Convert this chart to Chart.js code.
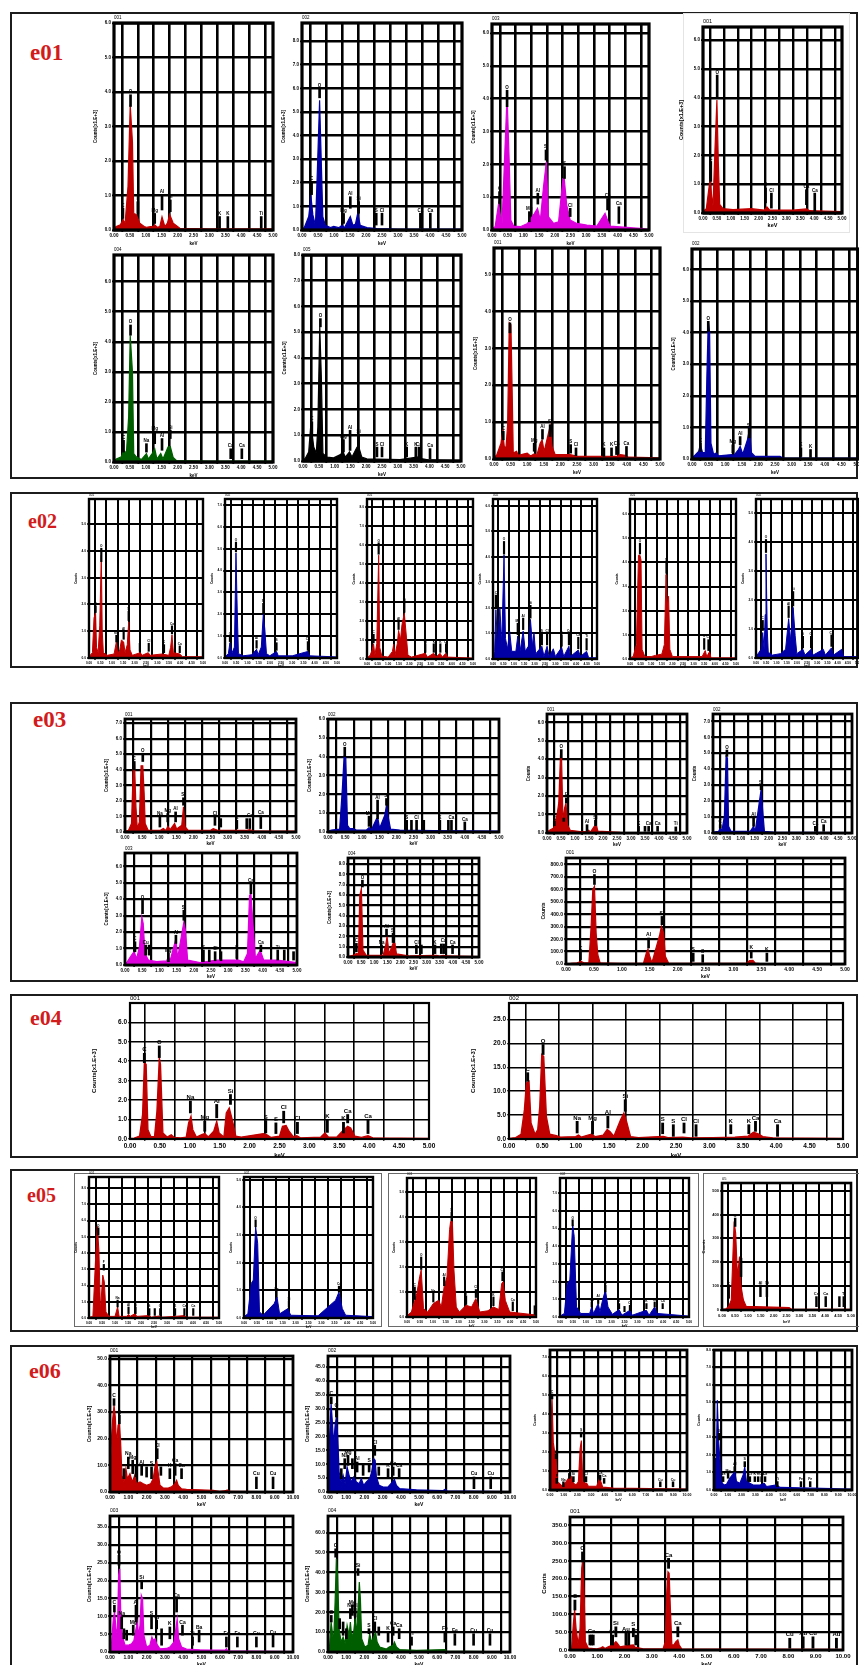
<!DOCTYPE html>
<html><head><meta charset="utf-8">
<script src="https://cdn.jsdelivr.net/npm/chart.js@4/dist/chart.umd.min.js"></script>
<style>
html,body{margin:0;padding:0;background:#fff;}
#page{position:relative;width:859px;height:1665px;overflow:hidden;background:#fff;}
.box{position:absolute;border:2px solid #1c1c1c;box-sizing:border-box;}
.frame{position:absolute;box-sizing:border-box;}
.tag{position:absolute;font-family:"Liberation Serif","DejaVu Serif",serif;font-weight:bold;color:#d21c1c;line-height:1;white-space:nowrap;}
canvas{position:absolute;}
</style></head><body><div id="page"></div>
<script>
// ---------- tick labels ----------
const X5 = ['0.00','0.50','1.00','1.50','2.00','2.50','3.00','3.50','4.00','4.50','5.00'];
const X10 = ['0.00','1.00','2.00','3.00','4.00','5.00','6.00','7.00','8.00','9.00','10.00'];
const Y5 = ['0.0','1.0','2.0','3.0','4.0','5.0'];
const Y6 = ['0.0','1.0','2.0','3.0','4.0','5.0','6.0'];
const Y7 = ['0.0','1.0','2.0','3.0','4.0','5.0','6.0','7.0'];
const Y8 = ['0.0','1.0','2.0','3.0','4.0','5.0','6.0','7.0','8.0'];
const Y9 = ['0.0','1.0','2.0','3.0','4.0','5.0','6.0','7.0','8.0','9.0'];
const Y800 = ['0.0','100.0','200.0','300.0','400.0','500.0','600.0','700.0','800.0'];
const Y25 = ['0.0','5.0','10.0','15.0','20.0','25.0'];
const Y500 = ['0','100','200','300','400','500'];
const Y50 = ['0.0','10.0','20.0','30.0','40.0','50.0'];
const Y45 = ['0.0','5.0','10.0','15.0','20.0','25.0','30.0','35.0','40.0','45.0'];
const Y35 = ['0.0','5.0','10.0','15.0','20.0','25.0','30.0','35.0'];
const Y60 = ['0.0','10.0','20.0','30.0','40.0','50.0','60.0'];
const Y350 = ['0.0','50.0','100.0','150.0','200.0','250.0','300.0','350.0'];

// ---------- e01 spectra (keV, counts) and peak markers [keV, from, to, label] ----------
const spec_e01a = [0,0.05, 0.07,0.1, 0.2,0.15, 0.28,0.29, 0.35,0.2, 0.44,1.26, 0.51,3.63, 0.58,2.56, 0.62,0.48, 0.7,0.45, 0.81,0.2, 0.95,0.1, 1.02,0.08, 1.15,0.1, 1.23,0.1, 1.28,0.15, 1.36,0.08, 1.44,0.1, 1.51,0.38, 1.6,0.1, 1.68,0.2, 1.75,0.45, 1.86,0.2, 2.07,0.05, 3,0.03, 5,0.03];
const mark_e01a = [[0.28,0.34,0.63,'C'],[0.52,3.58,3.92,'O'],[0.75,0.48,0.82,'F'],[1.28,0.19,0.48,'Mg'],[1.51,0.58,1.02,'Al'],[1.77,0.53,0.87,'Si'],[3.32,0.05,0.39,'K'],[3.58,0.05,0.39,'K'],[4.63,0.05,0.39,'Ti']];
const spec_e01b = [0,0.05, 0.07,0.1, 0.21,0.57, 0.28,1.41, 0.34,0.64, 0.42,0.2, 0.47,2.1, 0.55,5.5, 0.59,3.5, 0.65,0.57, 0.73,0.2, 0.89,0.1, 0.99,0.15, 1.15,0.1, 1.25,0.2, 1.33,0.1, 1.51,0.57, 1.59,0.2, 1.67,0.25, 1.74,0.7, 1.82,0.2, 2.03,0.1, 2.34,0.06, 3,0.04, 5,0.04];
const mark_e01b = [[0.3,1.5,2.05,'C'],[0.55,5.6,6.0,'O'],[1.3,0.28,0.7,'Mg'],[1.51,0.92,1.41,'Al'],[1.77,0.71,1.2,'Si'],[2.32,0.21,0.71,'S'],[2.5,0.21,0.71,'Cl'],[3.7,0.07,0.71,'Ca'],[4.01,0.07,0.71,'Ca']];
const spec_e01c = [0,0.05, 0.1,0.1, 0.21,0.81, 0.26,0.5, 0.32,0.2, 0.39,1.93, 0.48,4.11, 0.55,2.03, 0.6,0.3, 0.69,0.12, 0.9,0.1, 1.13,0.2, 1.35,0.5, 1.45,0.66, 1.54,0.3, 1.64,1.32, 1.73,2.08, 1.8,0.4, 1.96,0.2, 2.12,0.25, 2.26,1.57, 2.3,1.57, 2.38,0.76, 2.49,0.3, 2.7,0.2, 3.02,0.15, 3.34,0.12, 3.6,0.51, 3.68,0.3, 3.76,0.12, 4.29,0.08, 4.71,0.05, 5,0.02];
const mark_e01c = [[0.24,0.81,1.17,'C'],[0.48,3.76,4.26,'O'],[1.19,0.25,0.56,'Mg'],[1.46,0.79,1.12,'Al'],[1.72,2.13,2.44,'Si'],[2.31,1.57,1.93,'S'],[2.49,0.41,0.66,'Cl'],[3.68,0.61,0.96,'Ca'],[4.04,0.2,0.71,'Ca']];
const spec_e01d = [0,0.05, 0.12,0.15, 0.22,0.92, 0.26,1.15, 0.31,0.6, 0.36,0.25, 0.43,2.19, 0.5,3.92, 0.55,1.79, 0.6,0.3, 0.72,0.15, 1.08,0.12, 1.74,0.15, 2.2,0.1, 2.3,0.21, 2.4,0.1, 3.24,0.1, 3.72,0.14, 3.84,0.08, 5,0.05];
const mark_e01d = [[0.28,1.1,1.79,'C'],[0.51,4.04,4.79,'O'],[2.25,0.35,0.87,'S'],[2.46,0.17,0.69,'Cl'],[3.72,0.29,0.81,'Ca'],[4.02,0.06,0.69,'Ca']];
const spec_e01e = [0,0.05, 0.07,0.1, 0.23,0.17, 0.3,0.39, 0.39,0.3, 0.46,1.5, 0.51,4.22, 0.58,3.0, 0.62,0.28, 0.7,0.17, 0.86,0.08, 1.02,0.28, 1.08,0.1, 1.2,0.28, 1.28,0.44, 1.35,0.1, 1.47,0.28, 1.54,0.1, 1.7,0.5, 1.77,0.52, 1.86,0.15, 1.96,0.05, 3,0.03, 5,0.03];
const mark_e01e = [[0.3,0.33,0.72,'C'],[0.52,4.22,4.56,'O'],[1.02,0.33,0.61,'Na'],[1.28,0.61,1.0,'Mg'],[1.51,0.39,0.78,'Al'],[1.77,0.78,1.06,'Si'],[3.67,0.11,0.44,'Ca'],[4.02,0.11,0.44,'Ca']];
const spec_e01f = [0,0.05, 0.07,0.1, 0.18,0.35, 0.25,1.45, 0.34,0.54, 0.42,0.3, 0.47,1.32, 0.53,5.21, 0.58,3.27, 0.63,0.29, 0.76,0.15, 0.97,0.12, 1.2,0.26, 1.25,0.41, 1.34,0.15, 1.47,0.35, 1.55,0.15, 1.71,0.54, 1.76,0.57, 1.86,0.15, 2.02,0.08, 3.07,0.05, 3.65,0.16, 3.7,0.1, 4,0.04, 5,0.03];
const mark_e01f = [[0.28,1.0,1.52,'C'],[0.55,5.21,5.53,'O'],[1.28,0.35,0.83,'Mg'],[1.49,0.41,1.19,'Al'],[1.76,0.48,1.04,'Si'],[2.34,0.16,0.54,'S'],[2.5,0.16,0.54,'Cl'],[3.28,0.16,0.54,'K'],[3.57,0.03,0.54,'K'],[3.67,0.03,0.54,'Ca'],[4.02,0.09,0.48,'Ca']];
const spec_e01g = [0,0.05, 0.08,0.1, 0.21,0.43, 0.26,0.75, 0.31,0.34, 0.36,0.3, 0.41,0.93, 0.46,3.69, 0.51,3.64, 0.55,1.7, 0.58,0.16, 0.68,0.21, 0.73,0.1, 1.0,0.16, 1.1,0.08, 1.21,0.14, 1.29,0.1, 1.39,0.43, 1.45,0.52, 1.51,0.2, 1.64,0.7, 1.69,0.89, 1.75,0.34, 1.84,0.12, 2.19,0.12, 2.29,0.12, 2.49,0.08, 3.69,0.07, 3.8,0.12, 3.95,0.1, 4.05,0.05, 5,0.03];
const mark_e01g = [[0.28,0.52,0.75,'C'],[0.48,3.42,3.69,'O'],[1.21,0.21,0.43,'Mg'],[1.46,0.54,0.8,'Al'],[1.69,0.61,0.93,'Si'],[2.31,0.16,0.39,'S'],[2.47,0.09,0.3,'Cl'],[3.31,0.07,0.3,'K'],[3.54,0.09,0.3,'K'],[3.69,0.12,0.34,'Ca'],[3.99,0.07,0.34,'Ca']];
const spec_e01h = [0,0.05, 0.07,0.1, 0.2,0.24, 0.25,0.45, 0.32,0.2, 0.4,0.2, 0.45,2.72, 0.49,4.36, 0.53,4.04, 0.57,0.5, 0.65,0.15, 0.73,0.19, 0.8,0.1, 1.2,0.14, 1.25,0.1, 1.4,0.3, 1.45,0.4, 1.53,0.15, 1.67,0.61, 1.73,0.93, 1.79,0.2, 1.9,0.08, 2.65,0.08, 2.75,0.03, 5,0.03];
const mark_e01h = [[0.25,0.24,0.5,'C'],[0.49,4.04,4.36,'O'],[1.23,0.19,0.45,'Mg'],[1.45,0.45,0.71,'Al'],[1.72,0.67,0.98,'Si'],[3.28,0.08,0.35,'K'],[3.57,0.05,0.3,'K']];

// ---------- e02 ----------
const spec_e02a = [0,0.05, 0.15,0.2, 0.22,1.5, 0.29,1.68, 0.33,0.4, 0.4,0.2, 0.47,1.2, 0.54,3.84, 0.58,1.0, 0.63,0.2, 0.8,0.1, 1.1,0.15, 1.2,0.6, 1.26,0.15, 1.35,0.3, 1.42,0.67, 1.52,0.6, 1.58,0.2, 1.68,0.5, 1.74,1.35, 1.8,0.3, 1.9,0.1, 2.25,0.2, 2.33,0.1, 2.6,0.2, 2.68,0.1, 3.2,0.15, 3.5,0.1, 3.58,0.4, 3.64,0.86, 3.7,0.2, 3.98,0.15, 4.1,0.05, 5,0.05];
const mark_e02a = [[0.29,1.7,1.95,'C'],[0.54,3.6,4.1,'O'],[1.2,0.6,0.85,'Mg'],[1.52,0.7,1.0,'Al'],[1.74,1.4,1.75,'Si'],[2.23,0.25,0.55,'S'],[2.62,0.25,0.55,'Cl'],[3.29,0.2,0.5,'K'],[3.64,0.9,1.2,'Ca'],[3.98,0.2,0.45,'Ca']];
const spec_e02b = [0,0.05, 0.15,0.2, 0.22,0.7, 0.3,0.2, 0.42,0.5, 0.49,4.8, 0.55,2.0, 0.6,0.2, 0.8,0.1, 1.2,0.15, 1.41,0.4, 1.48,0.15, 1.62,0.5, 1.71,2.0, 1.78,1.3, 1.85,0.2, 2.0,0.1, 2.3,0.3, 2.38,0.1, 3.0,0.1, 3.7,0.3, 3.78,0.1, 5,0.05];
const mark_e02b = [[0.22,0.75,1.0,'C'],[0.49,4.85,5.3,'O'],[1.41,0.45,0.8,'Al'],[1.71,2.05,2.5,'Si'],[2.3,0.35,0.7,'S'],[3.7,0.35,0.75,'Ca']];
const spec_e02c = [0,0.05, 0.15,0.2, 0.25,0.5, 0.31,0.8, 0.37,0.2, 0.46,0.8, 0.55,5.45, 0.6,0.6, 0.7,0.15, 1.0,0.1, 1.2,0.4, 1.26,0.78, 1.32,0.2, 1.43,0.8, 1.49,1.5, 1.58,1.0, 1.65,1.8, 1.76,2.4, 1.86,1.15, 1.93,0.2, 2.1,0.1, 2.75,0.3, 2.85,0.1, 3.15,0.3, 3.25,0.1, 3.45,0.3, 3.55,0.1, 3.72,0.3, 3.8,0.1, 5,0.05];
const mark_e02c = [[0.31,0.85,1.3,'C'],[0.55,5.5,6.1,'O'],[1.49,1.55,2.0,'Al'],[1.76,2.45,3.0,'Si'],[2.75,0.35,0.8,'Cl'],[3.15,0.35,0.8,'K'],[3.46,0.35,0.8,'K'],[3.73,0.35,0.8,'Ca']];
const spec_e02d = [0,0.05, 0.08,0.3, 0.14,1.93, 0.22,0.4, 0.33,2.0, 0.42,0.6, 0.53,4.07, 0.6,0.8, 0.7,0.4, 0.8,1.09, 0.9,0.3, 1.1,0.3, 1.19,0.9, 1.3,0.3, 1.45,1.09, 1.55,0.3, 1.7,0.5, 1.8,1.55, 1.9,0.5, 1.97,1.04, 2.05,0.2, 2.35,0.5, 2.45,0.1, 2.6,0.5, 2.7,0.1, 2.9,0.4, 3.0,0.1, 3.3,0.45, 3.4,0.1, 3.65,0.5, 3.72,0.1, 4.1,0.35, 4.2,0.1, 4.5,0.3, 4.6,0.05, 5,0.05];
const mark_e02d = [[0.14,2.0,2.5,'C'],[0.53,4.1,4.6,'O'],[1.19,0.95,1.4,'Mg'],[1.45,1.15,1.6,'Al'],[1.8,1.6,2.1,'Si'],[2.35,0.55,1.0,'S'],[2.6,0.55,1.0,'Cl'],[3.3,0.5,0.95,'K'],[3.65,0.55,1.0,'Ca'],[4.1,0.4,0.85,'Ca'],[4.5,0.35,0.8,'Ti']];
const spec_e02e = [0,0.05, 0.15,0.1, 0.3,0.6, 0.4,4.3, 0.47,4.3, 0.52,4.1, 0.57,0.4, 0.7,0.1, 1.0,0.1, 1.2,0.15, 1.5,0.2, 1.62,0.6, 1.7,3.5, 1.76,2.2, 1.82,2.6, 1.88,0.4, 2.0,0.1, 2.5,0.1, 3.4,0.1, 3.55,0.35, 3.62,0.1, 3.75,0.3, 3.82,0.05, 5,0.05];
const mark_e02e = [[0.47,4.35,4.8,'O'],[1.72,3.55,4.0,'Si'],[3.5,0.4,0.85,'K'],[3.7,0.35,0.8,'Ca']];
const spec_e02f = [0,0.05, 0.15,0.2, 0.25,0.3, 0.33,0.88, 0.4,0.3, 0.45,1.5, 0.49,3.6, 0.55,1.0, 0.6,0.2, 0.8,0.1, 1.2,0.15, 1.45,0.3, 1.6,1.36, 1.7,0.6, 1.82,1.75, 1.92,0.77, 2.0,0.15, 2.3,0.3, 2.4,0.1, 2.7,0.3, 2.8,0.1, 3.3,0.3, 3.4,0.1, 3.7,0.35, 3.8,0.1, 4.2,0.3, 4.3,0.05, 5,0.05];
const mark_e02f = [[0.33,0.95,1.3,'C'],[0.49,3.65,4.1,'O'],[1.6,1.4,1.8,'Al'],[1.82,1.8,2.3,'Si'],[2.3,0.35,0.75,'S'],[2.7,0.35,0.75,'Cl'],[3.7,0.4,0.8,'Ca']];

// ---------- e03 ----------
const spec_e03a = [0,0.05, 0.1,0.1, 0.19,0.54, 0.24,3.99, 0.28,4.31, 0.32,1.62, 0.36,0.2, 0.42,0.65, 0.47,4.25, 0.52,4.25, 0.56,2.48, 0.59,0.54, 0.68,0.1, 1.02,0.1, 1.12,0.22, 1.2,0.1, 1.25,0.37, 1.32,0.15, 1.45,0.54, 1.51,0.2, 1.66,0.43, 1.71,1.62, 1.76,0.32, 1.85,0.1, 2.49,0.1, 2.58,0.22, 2.73,0.1, 3.56,0.1, 3.65,0.15, 3.75,0.08, 5,0.05];
const mark_e03a = [[0.27,3.99,4.53,'C'],[0.52,4.53,5.06,'O'],[1.02,0.32,0.97,'Na'],[1.25,0.65,1.19,'Mg'],[1.48,0.65,1.29,'Al'],[1.71,1.72,2.2,'Si'],[2.63,0.43,0.97,'Cl'],[2.8,0.32,0.86,''],[3.27,0.22,0.75,'K'],[3.56,0.22,0.86,''],[3.65,0.22,0.86,'Ca'],[3.97,0.22,1.08,'Ca']];
const spec_e03b = [0,0.05, 0.1,0.1, 0.34,0.15, 0.42,2.31, 0.47,4.0, 0.52,3.91, 0.57,0.36, 0.63,0.2, 0.73,0.18, 0.83,0.1, 1.12,0.1, 1.2,0.23, 1.27,0.12, 1.42,0.71, 1.46,0.71, 1.51,0.2, 1.66,0.89, 1.71,1.42, 1.76,0.8, 1.83,0.15, 2.1,0.1, 3.08,0.08, 5,0.05];
const mark_e03b = [[0.49,4.0,4.5,'O'],[1.2,0.3,0.84,'Mg'],[1.45,0.71,1.69,'Al'],[1.71,1.42,1.78,'Si'],[2.3,0.09,0.62,'S'],[2.44,0.09,0.62,''],[2.59,0.09,0.62,'Cl'],[2.8,0.09,0.62,''],[3.27,0.09,0.62,'K'],[3.52,0.09,0.62,''],[3.61,0.09,0.62,'Ca'],[4.0,0.09,0.53,'Ca']];
const spec_e03c = [0,0.05, 0.05,0.15, 0.19,0.6, 0.26,0.8, 0.34,0.4, 0.42,1.1, 0.49,2.92, 0.53,2.52, 0.58,0.7, 0.68,0.3, 0.92,0.2, 1.21,0.25, 1.26,0.5, 1.31,0.25, 1.43,1.2, 1.48,1.6, 1.53,0.4, 1.65,1.9, 1.71,2.6, 1.76,2.1, 1.82,0.3, 2.18,0.15, 2.67,0.3, 3.16,0.3, 3.3,0.3, 3.45,0.2, 3.56,0.7, 3.62,4.23, 3.66,4.33, 3.72,2.5, 3.79,0.4, 3.93,0.9, 4.03,0.3, 4.42,0.3, 5,0.15];
const mark_e03c = [[0.29,0.81,1.41,'C'],[0.51,3.12,3.93,'O'],[0.6,0.6,1.21,'Cu'],[0.7,0.6,1.21,''],[1.26,0.2,0.71,'Mg'],[1.48,1.31,1.81,'Al'],[1.71,2.72,3.33,'Si'],[2.28,0.2,0.91,'S'],[2.45,0.2,0.91,''],[2.62,0.26,0.81,'Cl'],[2.79,0.26,0.81,''],[3.25,0.4,0.91,'K'],[3.66,4.33,4.94,'Ca'],[3.95,0.81,1.21,'Ca'],[4.44,0.3,0.91,'Ti'],[4.63,0.3,0.91,''],[4.9,0.3,0.81,'']];
const spec_e03d = [0,0.05, 0.19,0.15, 0.32,0.33, 0.4,0.3, 0.45,5.96, 0.51,6.62, 0.57,0.66, 0.7,0.15, 1.34,0.15, 1.44,1.16, 1.49,1.99, 1.57,0.3, 1.72,1.32, 1.79,1.32, 1.85,0.3, 2.36,0.1, 3.38,0.17, 3.5,0.1, 3.64,0.17, 3.75,0.1, 5,0.05];
const mark_e03d = [[0.32,0.5,1.32,'C'],[0.55,6.79,7.45,'O'],[1.28,0.33,1.16,'Na'],[1.47,2.0,2.7,'Al'],[1.72,1.4,2.32,'Si'],[2.61,0.33,1.16,'Cl'],[2.8,0.33,1.16,''],[3.32,0.33,1.16,'K'],[3.56,0.33,1.26,''],[3.65,0.33,1.26,'Ca'],[3.99,0.33,1.16,'Ca']];
const spec_e03e = [0,3, 0.08,5, 0.2,10, 0.27,21, 0.32,10, 0.41,10, 0.45,303, 0.48,598, 0.51,625, 0.54,249, 0.57,75, 0.61,10, 0.97,5, 1.39,8, 1.44,88, 1.47,121, 1.5,62, 1.54,10, 1.68,236, 1.71,303, 1.75,249, 1.78,62, 1.84,5, 2.52,5, 3.24,8, 3.29,27, 3.35,29, 3.39,8, 3.48,3, 5,3];
const mark_e03e = [[0.26,35,102,'C'],[0.51,640,720,'O'],[1.48,129,209,'Al'],[1.72,316,383,'Si'],[2.28,21,88,'S'],[2.45,13,75,'S'],[3.32,48,107,'K'],[3.6,21,88,'K']];
const spec_e03f = [0,0.05, 0.12,0.18, 0.24,0.27, 0.36,0.99, 0.42,1.63, 0.48,4.16, 0.52,4.07, 0.57,0.63, 0.63,1.36, 0.68,1.63, 0.73,0.45, 0.83,0.15, 1.19,0.08, 1.43,0.09, 1.49,0.15, 1.55,0.05, 1.69,0.36, 1.76,0.4, 1.82,0.1, 2.62,0.03, 5,0.02];
const mark_e03f = [[0.26,0.4,0.63,'C'],[0.51,4.07,4.52,'O'],[0.6,0.63,0.81,''],[0.69,1.63,1.9,'F'],[1.43,0.09,0.45,'Al'],[1.73,0.4,0.7,'Si'],[3.27,0.09,0.36,'K'],[3.5,0.09,0.36,''],[3.63,0.09,0.36,'Ca'],[3.95,0.09,0.36,'Ca'],[4.6,0.09,0.33,'Ti']];
const spec_e03g = [0,0.05, 0.2,0.1, 0.26,0.31, 0.32,0.15, 0.41,1.04, 0.47,4.8, 0.52,4.7, 0.56,0.42, 0.65,0.1, 1.34,0.1, 1.46,0.42, 1.52,0.1, 1.67,1.98, 1.73,2.71, 1.79,1.36, 1.85,0.1, 2.18,0.05, 5,0.03];
const mark_e03g = [[0.26,0.31,0.52,'C'],[0.5,4.8,5.2,'O'],[1.46,0.42,0.94,'Al'],[1.73,2.71,3.0,'Si'],[3.68,0.1,0.42,'Ca'],[3.98,0.1,0.52,'Ca']];

// ---------- e04 ----------
const spec_e04a = [0,0.03, 0.07,0.05, 0.16,0.15, 0.21,1.26, 0.24,3.93, 0.27,3.84, 0.3,0.48, 0.35,0.12, 0.41,0.12, 0.45,1.43, 0.49,4.19, 0.51,3.84, 0.55,0.31, 0.62,0.1, 0.69,0.22, 0.74,0.08, 0.85,0.06, 0.94,0.1, 0.98,0.83, 1.02,1.17, 1.05,0.48, 1.11,0.1, 1.2,0.22, 1.25,0.28, 1.31,0.1, 1.4,0.4, 1.45,0.91, 1.49,0.31, 1.57,0.1, 1.61,1.34, 1.66,1.6, 1.71,1.0, 1.77,0.15, 1.86,0.1, 2.23,0.28, 2.29,0.22, 2.36,0.08, 2.5,0.15, 2.55,0.65, 2.61,0.69, 2.66,0.4, 2.73,0.12, 2.79,0.17, 2.85,0.06, 3.19,0.1, 3.26,0.31, 3.32,0.1, 3.46,0.1, 3.55,0.4, 3.64,0.65, 3.69,0.57, 3.76,0.15, 3.87,0.08, 3.98,0.17, 4.06,0.06, 5,0.03];
const mark_e04a = [[0.24,3.93,4.41,'C'],[0.49,4.19,4.79,'O'],[1.01,1.34,1.95,'Na'],[1.25,0.4,0.91,'Mg'],[1.45,1.09,1.78,'Al'],[1.68,1.78,2.29,'Si'],[2.27,0.31,0.95,'S'],[2.44,0.28,0.83,'S'],[2.57,0.83,1.43,'Cl'],[2.8,0.28,0.86,'Cl'],[3.3,0.34,1.0,'K'],[3.57,0.31,0.86,'K'],[3.64,0.83,1.26,'Ca'],[3.98,0.28,1.0,'Ca']];
const spec_e04b = [0,0.15, 0.1,0.3, 0.18,1.0, 0.23,6.1, 0.26,11.7, 0.3,12.1, 0.33,3.35, 0.39,1.0, 0.43,2.0, 0.46,6.8, 0.49,17.7, 0.52,17.3, 0.56,4.7, 0.61,1.0, 0.71,0.7, 0.77,0.4, 1.0,0.5, 1.04,0.84, 1.08,0.4, 1.23,1.0, 1.29,0.5, 1.41,0.8, 1.47,2.0, 1.51,1.6, 1.57,0.6, 1.67,4.05, 1.72,5.45, 1.76,3.7, 1.82,0.5, 1.94,0.3, 2.31,0.56, 2.38,0.3, 2.6,0.4, 2.72,0.25, 3.05,0.3, 3.38,0.4, 3.58,0.6, 3.66,1.4, 3.73,1.1, 3.8,0.5, 3.95,0.25, 5,0.15];
const mark_e04b = [[0.28,12.1,13.9,'C'],[0.51,17.7,19.8,'O'],[1.02,1.26,3.7,'Na'],[1.25,1.1,3.7,'Mg'],[1.48,2.3,4.75,'Al'],[1.74,5.8,8.24,'Si'],[2.3,1.1,3.35,'S'],[2.46,0.56,3.0,'S'],[2.62,1.26,3.35,'Cl'],[2.8,0.56,3.0,'Cl'],[3.32,1.1,3.0,'K'],[3.59,1.1,3.0,'K'],[3.69,1.6,3.7,'Ca'],[4.02,0.56,3.0,'Ca']];

// ---------- e05 ----------
const spec_e05a = [0,0.05, 0.15,0.1, 0.25,3.57, 0.32,5.63, 0.38,4.19, 0.44,0.47, 0.53,2.64, 0.59,2.23, 0.65,0.37, 0.78,0.1, 1.0,0.1, 1.1,0.68, 1.16,0.1, 1.45,0.1, 1.52,0.23, 1.58,0.1, 1.77,0.27, 1.84,0.1, 2.3,0.15, 2.4,0.05, 2.68,0.12, 2.75,0.05, 3.31,0.1, 3.67,0.15, 3.75,0.05, 5,0.05];
const mark_e05a = [[0.36,5.1,5.55,'O'],[0.57,2.95,3.3,'F'],[1.1,0.68,1.1,'Na'],[1.52,0.27,0.68,'Al'],[1.79,0.27,0.68,'Si'],[2.32,0.16,0.58,'S'],[2.53,0.16,0.58,''],[2.74,0.16,0.58,'Cl'],[3.31,0.16,0.58,'K'],[3.67,0.16,0.58,'Ca'],[4.01,0.16,0.58,'Ca']];
const spec_e05b = [0,0.05, 0.15,0.15, 0.28,1.25, 0.36,1.37, 0.45,3.3, 0.53,2.7, 0.6,0.22, 0.74,0.1, 1.17,0.52, 1.28,0.76, 1.38,0.15, 1.7,0.34, 1.81,0.1, 2.87,0.08, 3.55,0.64, 3.68,0.94, 3.81,0.34, 3.94,0.1, 5,0.05];
const mark_e05b = [[0.45,3.3,3.55,'O'],[1.26,0.76,0.98,'Na'],[1.74,0.4,0.62,'Si'],[3.68,0.94,1.15,'Ca']];
const spec_e05c = [0,0.05, 0.17,0.2, 0.3,0.67, 0.38,0.94, 0.49,1.61, 0.55,1.88, 0.64,0.34, 0.8,0.2, 1.02,0.54, 1.23,0.67, 1.33,0.4, 1.44,1.21, 1.55,1.6, 1.65,3.49, 1.69,3.82, 1.76,3.82, 1.82,1.88, 1.91,0.4, 2.03,0.2, 2.29,0.47, 2.5,0.4, 2.67,0.74, 2.82,0.2, 3.14,0.25, 3.35,0.4, 3.56,0.3, 3.67,1.34, 3.73,1.41, 3.81,0.67, 3.98,0.2, 4.41,0.15, 5,0.08];
const mark_e05c = [[0.3,0.7,1.2,'C'],[0.55,1.9,2.4,'O'],[1.02,0.6,0.95,'Na'],[1.44,1.25,1.6,'Al'],[1.73,3.85,4.2,'Si'],[2.29,0.5,0.85,'S'],[2.67,0.78,1.1,'Cl'],[3.35,0.45,0.8,'K'],[3.7,1.45,1.8,'Ca'],[4.1,0.25,0.6,'Ca'],[4.95,0.1,0.45,'']];
const spec_e05d = [0,0.05, 0.17,0.2, 0.28,1.9, 0.38,2.09, 0.49,5.23, 0.55,4.56, 0.64,0.57, 0.8,0.2, 1.15,0.2, 1.23,0.57, 1.3,0.2, 1.48,0.76, 1.55,0.3, 1.65,0.95, 1.76,1.52, 1.86,0.57, 2.03,0.15, 2.29,0.42, 2.4,0.1, 2.71,0.38, 2.8,0.1, 3.35,0.38, 3.45,0.1, 3.67,0.57, 3.77,0.2, 5,0.05];
const mark_e05d = [[0.49,5.15,5.5,'O'],[1.23,0.57,0.85,'Na'],[1.48,0.76,1.05,'Al'],[1.76,1.42,1.8,'Si'],[2.29,0.47,0.76,'S'],[2.5,0.3,0.6,''],[2.71,0.38,0.66,'Cl'],[3.35,0.47,0.76,'K'],[3.67,0.57,0.85,'Ca'],[3.98,0.47,0.76,'Ca']];
const spec_e05e = [0,3, 0.15,5, 0.26,15, 0.36,42, 0.47,371, 0.53,322, 0.6,140, 0.68,224, 0.74,98, 0.83,42, 0.94,15, 2.6,10, 2.7,3, 5,3];
const mark_e05e = [[0.26,49,98,'C'],[0.51,350,385,'O'],[0.74,140,217,'F'],[1.49,56,105,'Al'],[1.74,56,105,'Si'],[3.66,14,56,'Ca'],[4.02,14,56,'Ca'],[4.55,14,56,''],[4.72,14,56,'Ti']];

// ---------- e06 ----------
const spec_e06a = [0,1, 0.09,21.3, 0.15,27.5, 0.22,32.5, 0.29,28.1, 0.36,17.5, 0.44,25, 0.51,25.6, 0.58,18.75, 0.65,6.25, 0.76,3.75, 0.87,8.75, 0.95,5, 1.09,6.9, 1.22,3.75, 1.35,6.25, 1.45,3.1, 1.64,3.75, 1.82,3.1, 2.0,2.5, 2.22,3.1, 2.36,5, 2.47,10, 2.55,11.25, 2.64,6.9, 2.73,2.5, 2.91,1.5, 3.18,1.5, 3.36,1.9, 3.55,3.1, 3.64,4.4, 3.73,2.5, 3.91,1.2, 4.18,1.0, 4.91,0.8, 5.64,0.6, 6.0,0.2, 6.33,0.5, 6.4,0.8, 6.55,0.2, 10,0.1];
const mark_e06a = [[0.22,32.5,35,'C'],[0.51,25.6,28.75,'O'],[0.76,5,8.75,''],[1.0,8.75,13.1,'Na'],[1.24,6.9,11.9,'Mg'],[1.42,5.6,10,''],[1.73,6.25,10,'Al'],[2.0,5.6,9.4,''],[2.27,5,9.4,'S'],[2.58,12.5,16.25,'Cl'],[2.78,6.25,9.4,''],[3.27,5,8.75,'K'],[3.56,6.25,10.6,'Ca'],[3.91,5,8.75,'Ca'],[8.0,1.25,5.6,'Cu'],[8.91,1.25,5.6,'Cu']];
const spec_e06b = [0,1, 0.09,20.4, 0.17,31.8, 0.24,25.2, 0.31,16.8, 0.39,24, 0.46,27, 0.53,20.4, 0.61,7.2, 0.72,3.6, 0.83,6, 0.94,3, 1.05,9, 1.16,6, 1.28,3.6, 1.41,5.4, 1.56,3.6, 1.71,3, 1.83,4.8, 1.96,2.4, 2.11,3.6, 2.29,4.8, 2.4,7.2, 2.51,12, 2.59,11.4, 2.66,5.4, 2.81,2.4, 3.03,1.8, 3.3,1.8, 3.54,3.6, 3.65,4.6, 3.76,2.4, 3.94,1.2, 4.86,0.8, 5.78,0.6, 6.33,0.5, 6.44,1.0, 6.55,0.4, 10,0.1];
const mark_e06b = [[0.18,31.8,34.2,'C'],[0.46,27,30,'O'],[0.73,4.8,8.4,''],[0.92,8.4,12,'Na'],[1.1,9.6,13.2,'Mg'],[1.34,8.4,12,''],[1.6,7.2,10.8,'Al'],[1.93,6,10.2,''],[2.26,7.2,10.2,'S'],[2.57,13.2,16.8,'Cl'],[2.79,6,9,''],[3.3,4.8,8.4,'K'],[3.58,6,9,'Ca'],[3.91,4.8,8.4,'Ca'],[8.02,1.2,5.4,'Cu'],[8.94,1.2,5.4,'Cu']];
const spec_e06c = [0,0.5, 0.09,2.8, 0.18,9.3, 0.25,11.2, 0.33,6.5, 0.4,4.7, 0.47,21.5, 0.53,23.3, 0.6,8.4, 0.69,4.2, 0.82,1.9, 1.0,1.9, 1.18,2.3, 1.31,3.3, 1.42,6.5, 1.49,8.4, 1.56,4.7, 1.64,7.5, 1.71,15.9, 1.78,14.9, 1.85,4.7, 2.0,1.4, 2.18,1.9, 2.29,4.2, 2.36,3.3, 2.47,3.7, 2.55,2.3, 2.73,0.9, 3.09,1.0, 3.27,1.4, 3.49,2.8, 3.6,6.5, 3.67,9.3, 3.75,3.7, 3.91,1.4, 4.18,0.8, 4.91,0.6, 6.29,0.5, 6.36,0.9, 6.45,0.3, 10,0.1];
const mark_e06c = [[0.24,11.2,13.1,'C'],[0.49,24.3,27.1,'O'],[0.64,6.5,9.8,'Na'],[0.76,3.7,6.5,''],[0.91,3.3,6.1,''],[1.27,4.7,7.5,'Mg'],[1.42,8.4,13.1,'Al'],[1.73,17.7,20.1,'Si'],[2.27,6.5,9.8,'S'],[2.55,6.5,8.9,'Cl'],[2.82,1.9,6.5,''],[3.27,3.7,7.0,'K'],[3.64,11.2,14.9,'Ca'],[3.96,4.7,7.5,'Ca'],[4.51,1.9,4.2,'Ti'],[4.87,2.8,6.1,'Ba'],[6.36,1.4,4.2,'Fe'],[6.96,1.4,4.2,'Fe'],[8.0,1.4,4.2,'Cu'],[8.91,1.4,4.7,'Cu']];
const spec_e06d = [0,0.5, 0.09,3.4, 0.17,15.1, 0.24,10, 0.31,5, 0.39,25.1, 0.46,46.9, 0.53,38.5, 0.61,11.7, 0.72,5, 0.83,7.5, 0.94,4.2, 1.05,13.4, 1.16,8.4, 1.23,15.1, 1.3,7.5, 1.41,10, 1.49,16.8, 1.56,8.4, 1.67,25.1, 1.72,35.2, 1.78,26.8, 1.85,6.7, 2.02,2.5, 2.2,3.4, 2.29,9.2, 2.39,5, 2.51,7.5, 2.61,10, 2.7,5, 2.84,2.5, 3.21,1.5, 3.36,2.5, 3.58,3.4, 3.65,5, 3.76,2.5, 3.94,1.2, 4.86,0.8, 6.42,1.2, 6.5,0.4, 10,0.1];
const mark_e06d = [[0.18,15.1,18.4,'C'],[0.42,47.7,51.9,'O'],[0.64,11.7,16.8,''],[0.83,8.4,15.1,''],[1.01,6.7,11.7,''],[1.23,16.8,21.8,'Na'],[1.34,18.4,23.5,'Mg'],[1.49,17.6,22,'Al'],[1.65,38.5,41.9,'Si'],[2.25,9.2,11.7,'S'],[2.57,10,15.1,'Cl'],[2.79,8.4,12.6,''],[3.3,5,10,'K'],[3.58,8.4,12.6,'Ca'],[3.91,6.7,11.7,'Ca'],[4.59,3.4,7.5,'Ti'],[6.42,5,10,'Fe'],[6.97,3.4,9.2,'Fe'],[8.0,3.4,9.2,'Cu'],[8.9,3.4,9.2,'Cu']];
const spec_e06e = [0,2.1, 0.05,2.1, 0.15,4.78, 0.24,2.5, 0.34,2.0, 0.44,1.65, 0.54,0.43, 0.68,0.35, 0.85,0.23, 1.1,0.35, 1.34,0.61, 1.59,0.7, 1.71,0.35, 1.9,0.26, 2.07,0.43, 2.2,2.17, 2.29,2.6, 2.39,0.43, 2.56,0.35, 2.68,0.35, 2.8,0.2, 3.41,0.2, 3.61,0.61, 3.71,0.43, 3.85,0.15, 4.63,0.1, 10,0.05];
const mark_e06e = [[0.15,4.78,5.04,'C'],[0.44,1.65,1.9,'O'],[0.49,0.35,0.61,'F'],[0.98,0.17,0.43,'Na'],[1.41,0.61,0.87,'Al'],[1.71,0.43,0.7,'Si'],[2.27,2.78,3.04,'S'],[2.63,0.43,0.7,'Cl'],[3.66,0.52,0.78,'Ca'],[3.95,0.35,0.61,'Ca'],[8.05,0.17,0.43,'Cu'],[8.98,0.17,0.43,'Cu']];
const spec_e06f = [0,1.8, 0.17,1.8, 0.24,5.14, 0.34,2.76, 0.44,1.62, 0.53,0.48, 0.7,0.29, 0.9,0.32, 1.14,0.67, 1.33,0.86, 1.5,1.05, 1.63,0.48, 1.87,0.38, 2.11,0.86, 2.23,1.33, 2.35,0.48, 2.6,0.38, 2.84,0.29, 3.33,0.29, 3.64,0.38, 3.81,0.2, 4.54,0.29, 4.78,0.15, 10,0.05];
const mark_e06f = [[0.36,2.86,3.24,'O'],[0.66,0.48,0.76,'Na'],[1.02,0.67,0.95,'Mg'],[1.5,1.05,1.33,'Al'],[2.23,1.33,1.62,'S'],[2.6,0.48,0.76,'Cl'],[2.96,0.48,0.76,'K'],[3.2,0.48,0.76,'K'],[3.45,0.48,0.76,'Ca'],[3.7,0.48,0.76,'Ca'],[4.59,0.19,0.48,'Ti'],[6.3,0.19,0.48,'Fe'],[6.97,0.19,0.48,'Fe']];
const spec_e06g = [0,3, 0.06,3, 0.12,70, 0.17,112, 0.22,61, 0.3,14, 0.37,61, 0.43,229, 0.46,247, 0.51,173, 0.56,23, 0.67,5, 0.98,3, 1.1,5, 1.2,9, 1.28,4, 1.4,9, 1.49,12, 1.59,16, 1.68,23, 1.73,19, 1.83,9, 2.07,12, 2.32,14, 2.38,8, 2.68,3, 3.41,3, 3.49,23, 3.54,154, 3.59,219, 3.63,215, 3.68,107, 3.73,14, 3.8,14, 3.88,23, 3.95,28, 4.0,14, 4.09,3, 10,2];
const mark_e06g = [[0.18,112,140,'C'],[0.46,247,275,'O'],[0.73,14,42,''],[0.79,14,42,'Ca'],[0.85,14,42,''],[1.56,14,42,'Au'],[1.68,37,65,'Si'],[2.05,14,47,'Au'],[2.15,14,47,''],[2.32,37,61,'S'],[2.41,14,42,'S'],[3.61,229,257,'Ca'],[3.95,37,65,'Ca'],[8.05,5,33,'Cu'],[8.54,5,37,'Au'],[8.9,5,37,'Cu'],[9.76,5,33,'Au']];

// ---------- styles & layout (kept apart from the data) ----------
const COLORS = {red:'#c00000', blue:'#0000a6', mag:'#dd00dd', green:'#005e00', black:'#000000'};
const STYLE = {
  e01:{L:22,T:9,R:8,B:16,tick:4.5,title:4.5,grid:2.6,frame:3.2,mw:2,mf:4.5,lw:1.2},
  e01b:{L:26,T:10,R:8,B:16,tick:4.5,title:5.5,grid:2.4,frame:3.2,mw:2,mf:4.5,lw:1.2},
  e02:{L:16,T:6,R:6,B:10,tick:3.2,title:3.2,grid:2,frame:2.4,mw:1.5,mf:3.2,lw:1},
  e03:{L:22,T:9,R:8,B:14,tick:4.5,title:4.5,grid:2.2,frame:2.8,mw:2,mf:4.5,lw:1.2},
  e03w:{L:26,T:10,R:8,B:16,tick:5,title:5,grid:2.2,frame:2.8,mw:2,mf:5,lw:1.2},
  e04:{L:40,T:12,R:10,B:20,tick:6.5,title:6,grid:1.6,frame:2.2,mw:2.2,mf:6,lw:1.3},
  e05:{L:16,T:7,R:6,B:11,tick:3.2,title:3.2,grid:2,frame:2.4,mw:1.5,mf:3.2,lw:1},
  e05b:{L:22,T:10,R:6,B:14,tick:4,title:4,grid:2,frame:2.6,mw:1.8,mf:4,lw:1.1},
  e06:{L:24,T:10,R:10,B:16,tick:5,title:5,grid:2.2,frame:2.8,mw:2,mf:5,lw:1.2},
  e06s:{L:18,T:8,R:8,B:12,tick:3.5,title:3.5,grid:2.2,frame:2.8,mw:1.8,mf:3.5,lw:1.1},
  e06w:{L:30,T:10,R:10,B:18,tick:6,title:6,grid:2.2,frame:2.8,mw:2.2,mf:6,lw:1.3}
};
// [style, plot rect, colour, x labels, y labels, y max, spectrum, markers, title, y title]
const PANELS = [
  ['e01',[114,23,273,230],'red',X5,Y6,6,spec_e01a,mark_e01a,'001','Counts[x1.E+3]'],
  ['e01',[302,23,462,230],'blue',X5,Y8,8.77,spec_e01b,mark_e01b,'002','Counts[x1.E+3]'],
  ['e01',[492,24,649,230],'mag',X5,Y6,6.28,spec_e01c,mark_e01c,'003','Counts[x1.E+3]'],
  ['e01b',[703,27,842,213],'red',X5,Y6,6.46,spec_e01d,mark_e01d,'001','Counts[x1.E+3]'],
  ['e01',[114,255,273,462],'green',X5,Y6,6.89,spec_e01e,mark_e01e,'004','Counts[x1.E+3]'],
  ['e01',[303,255,461,461],'black',X5,Y8,8,spec_e01f,mark_e01f,'005','Counts[x1.E+3]'],
  ['e01',[494,248,660,459],'red',X5,Y5,5.72,spec_e01g,mark_e01g,'001','Counts[x1.E+3]'],
  ['e01',[692,249,858,459],'blue',X5,Y6,6.65,spec_e01h,mark_e01h,'002','Counts[x1.E+3]'],
  ['e02',[89,499,203,658],'red',X5,Y5,5.94,spec_e02a,mark_e02a,'001','Counts'],
  ['e02',[225,499,337,658],'blue',X5,Y7,7.27,spec_e02b,mark_e02b,'002','Counts'],
  ['e02',[367,499,473,659],'red',X5,Y8,8.4,spec_e02c,mark_e02c,'001','Counts'],
  ['e02',[493,499,597,659],'blue',X5,Y6,6.26,spec_e02d,mark_e02d,'002','Counts'],
  ['e02',[630,499,736,659],'red',X5,Y6,6.63,spec_e02e,mark_e02e,'001','Counts'],
  ['e02',[756,499,858,658],'blue',X5,Y5,5.5,spec_e02f,mark_e02f,'002','Counts'],
  ['e03',[125,719,296,832],'red',X5,Y7,7.26,spec_e03a,mark_e03a,'001','Counts[x1.E+3]'],
  ['e03',[328,719,499,832],'blue',X5,Y6,6,spec_e03b,mark_e03b,'002','Counts[x1.E+3]'],
  ['e03',[125,853,297,965],'mag',X5,Y6,6.81,spec_e03c,mark_e03c,'003','Counts[x1.E+3]'],
  ['e03',[348,858,479,957],'red',X5,Y9,9.6,spec_e03d,mark_e03d,'004','Counts[x1.E+3]'],
  ['e03',[547,714,687,833],'red',X5,Y6,6.45,spec_e03f,mark_e03f,'001','Counts'],
  ['e03',[713,714,852,833],'blue',X5,Y7,7.46,spec_e03g,mark_e03g,'002','Counts'],
  ['e03w',[566,858,845,964],'red',X5,Y800,853,spec_e03e,mark_e03e,'001','Counts'],
  ['e04',[130,1003,429,1139],'red',X5,Y6,7,spec_e04a,mark_e04a,'001','Counts[x1.E+3]'],
  ['e04',[509,1003,843,1139],'red',X5,Y25,28.5,spec_e04b,mark_e04b,'002','Counts[x1.E+3]'],
  ['e05',[89,1177,219,1318],'red',X5,Y8,8.68,spec_e05a,mark_e05a,'001','Counts'],
  ['e05',[244,1177,373,1318],'blue',X5,Y5,5.1,spec_e05b,mark_e05b,'002','Counts'],
  ['e05',[407,1178,536,1317],'red',X5,Y5,5.56,spec_e05c,mark_e05c,'001','Counts'],
  ['e05',[560,1178,689,1317],'blue',X5,Y7,7.86,spec_e05d,mark_e05d,'002','Counts'],
  ['e05b',[722,1183,851,1310],'red',X5,Y500,532,spec_e05e,mark_e05e,'05','Counts'],
  ['e06',[110,1356,293,1492],'red',X10,Y50,51,spec_e06a,mark_e06a,'001','Counts[x1.E+3]'],
  ['e06',[328,1356,510,1492],'blue',X10,Y45,49,spec_e06b,mark_e06b,'002','Counts[x1.E+3]'],
  ['e06',[110,1516,293,1652],'mag',X10,Y35,38.1,spec_e06c,mark_e06c,'003','Counts[x1.E+3]'],
  ['e06',[328,1516,510,1652],'green',X10,Y60,68.4,spec_e06d,mark_e06d,'004','Counts[x1.E+3]'],
  ['e06s',[550,1350,687,1490],'red',X10,Y7,7.35,spec_e06e,mark_e06e,'','Counts'],
  ['e06s',[714,1350,852,1490],'blue',X10,Y8,8,spec_e06f,mark_e06f,'','Counts'],
  ['e06w',[570,1517,843,1650],'red',X10,Y350,373,spec_e06g,mark_e06g,'001','Counts']
];
const BOXES = [[10,12,848,467],[10,492,848,176],[10,702,848,280],[10,994,848,164],[10,1169,848,163],[10,1345,848,360]];
const TAGS = [['e01',30,60,23],['e02',28,528,20],['e03',33,727,23],['e04',30,1025,22],['e05',27,1202,20],['e06',29,1378,22]];
const FRAMES = [[74,1173,308,154,'#6a6a6a',1.5],[388,1173,311,154,'#6a6a6a',1.5],[703,1173,170,154,'#6a6a6a',1.5],[683,13,167,220,'#e4e4e4',1]];

// ---------- build ----------
const page = document.getElementById('page');
BOXES.forEach(b => { const d = document.createElement('div'); d.className='box';
  Object.assign(d.style,{left:b[0]+'px',top:b[1]+'px',width:b[2]+'px',height:b[3]+'px'}); page.appendChild(d); });
FRAMES.forEach(f => { const d = document.createElement('div'); d.className='frame';
  Object.assign(d.style,{left:f[0]+'px',top:f[1]+'px',width:f[2]+'px',height:f[3]+'px',border:f[5]+'px solid '+f[4]}); page.appendChild(d); });
TAGS.forEach(t => { const d = document.createElement('div'); d.className='tag'; d.textContent=t[0];
  Object.assign(d.style,{left:t[1]+'px',top:(t[2]-0.8375*t[3])+'px',fontSize:t[3]+'px'}); page.appendChild(d); });

Chart.defaults.font.family = '"Liberation Sans", Arial, sans-serif';
function pts(a){ const r=[]; for(let i=0;i<a.length;i+=2) r.push({x:a[i],y:a[i+1]}); return r; }

const deco = {
  id:'deco',
  afterDatasetsDraw(chart){
    const o = chart.options.plugins.deco; const {ctx, chartArea:a, scales} = chart;
    ctx.save();
    ctx.fillStyle = '#000';
    ctx.font = 'bold ' + o.mf + 'px "Liberation Sans", Arial, sans-serif';
    ctx.textAlign = 'center'; ctx.textBaseline = 'bottom';
    o.marks.forEach(m => { if (m[3]) ctx.fillText(m[3], scales.x.getPixelForValue(m[0]), scales.y.getPixelForValue(m[2]) - 0.5); });
    ctx.lineWidth = o.frame; ctx.strokeStyle = '#000';
    ctx.strokeRect(a.left, a.top, a.right - a.left, a.bottom - a.top);
    if (o.title) { ctx.font = o.tf + 'px "Liberation Sans", Arial, sans-serif'; ctx.textAlign='left'; ctx.fillText(o.title, a.left, a.top - o.frame/2 - 1); }
    ctx.restore();
  }
};

PANELS.forEach(p => {
  const [sk, rect, col, xl, yl, yMax, spec, marks, title, ytitle] = p;
  const st = STYLE[sk];
  const [x0,y0,x1,y1] = rect;
  const W = (x1 - x0) + st.L + st.R, H = (y1 - y0) + st.T + st.B;
  const cv = document.createElement('canvas');
  cv.width = W; cv.height = H;
  Object.assign(cv.style,{left:(x0 - st.L)+'px', top:(y0 - st.T)+'px', width:W+'px', height:H+'px'});
  page.appendChild(cv);
  const c = COLORS[col];
  const fnt = {size: st.tick, weight:'bold'};
  new Chart(cv, {
    type:'line',
    data:{datasets:[
      {type:'bar', data: marks.map(m => ({x:m[0], y:[m[1], m[2]]})), backgroundColor:'#000', borderWidth:0, barThickness: st.mw, order:1},
      {type:'line', data: pts(spec), borderColor:c, backgroundColor:c, borderWidth: st.lw, fill:'origin', pointRadius:0, tension:0, order:2}
    ]},
    options:{
      responsive:false, animation:false, devicePixelRatio:1, events:[],
      layout:{padding:{left:0, top:st.T, right:st.R, bottom:0}},
      plugins:{legend:{display:false}, tooltip:{enabled:false},
        deco:{marks, frame:st.frame, mf:st.mf, tf:st.title, title}},
      scales:{
        x:{type:'linear', min:0, max:parseFloat(xl[xl.length-1]), offset:false, bounds:'data',
          afterBuildTicks: s => { s.ticks = xl.map(l => ({value: parseFloat(l)})); },
          afterFit: s => { s.height = st.B; s.paddingLeft = 0; s.paddingRight = 0; },
          ticks:{callback:(v,i) => xl[i], autoSkip:false, maxRotation:0, minRotation:0, color:'#000', font:fnt, padding:1},
          grid:{color:'#000', lineWidth:st.grid, tickLength:2, tickColor:'#000', tickWidth:st.grid*0.7},
          border:{display:false},
          title:{display:true, text:'keV', color:'#000', font:{size:st.title, weight:'bold'}, padding:{top:0,bottom:0}}
        },
        y:{type:'linear', min:0, max:yMax, bounds:'data',
          afterBuildTicks: s => { s.ticks = yl.map(l => ({value: parseFloat(l)})); },
          afterFit: s => { s.width = st.L; s.paddingTop = 0; s.paddingBottom = 0; },
          ticks:{callback:(v,i) => yl[i], autoSkip:false, color:'#000', font:fnt, padding:1},
          grid:{color:'#000', lineWidth:st.grid, tickLength:2, tickColor:'#000', tickWidth:st.grid*0.7},
          border:{display:false},
          title:{display:true, text:ytitle, color:'#000', font:{size:st.title, weight:'bold'}, padding:{top:1,bottom:0}}
        }
      }
    },
    plugins:[deco]
  });
});
</script>
</body></html>
